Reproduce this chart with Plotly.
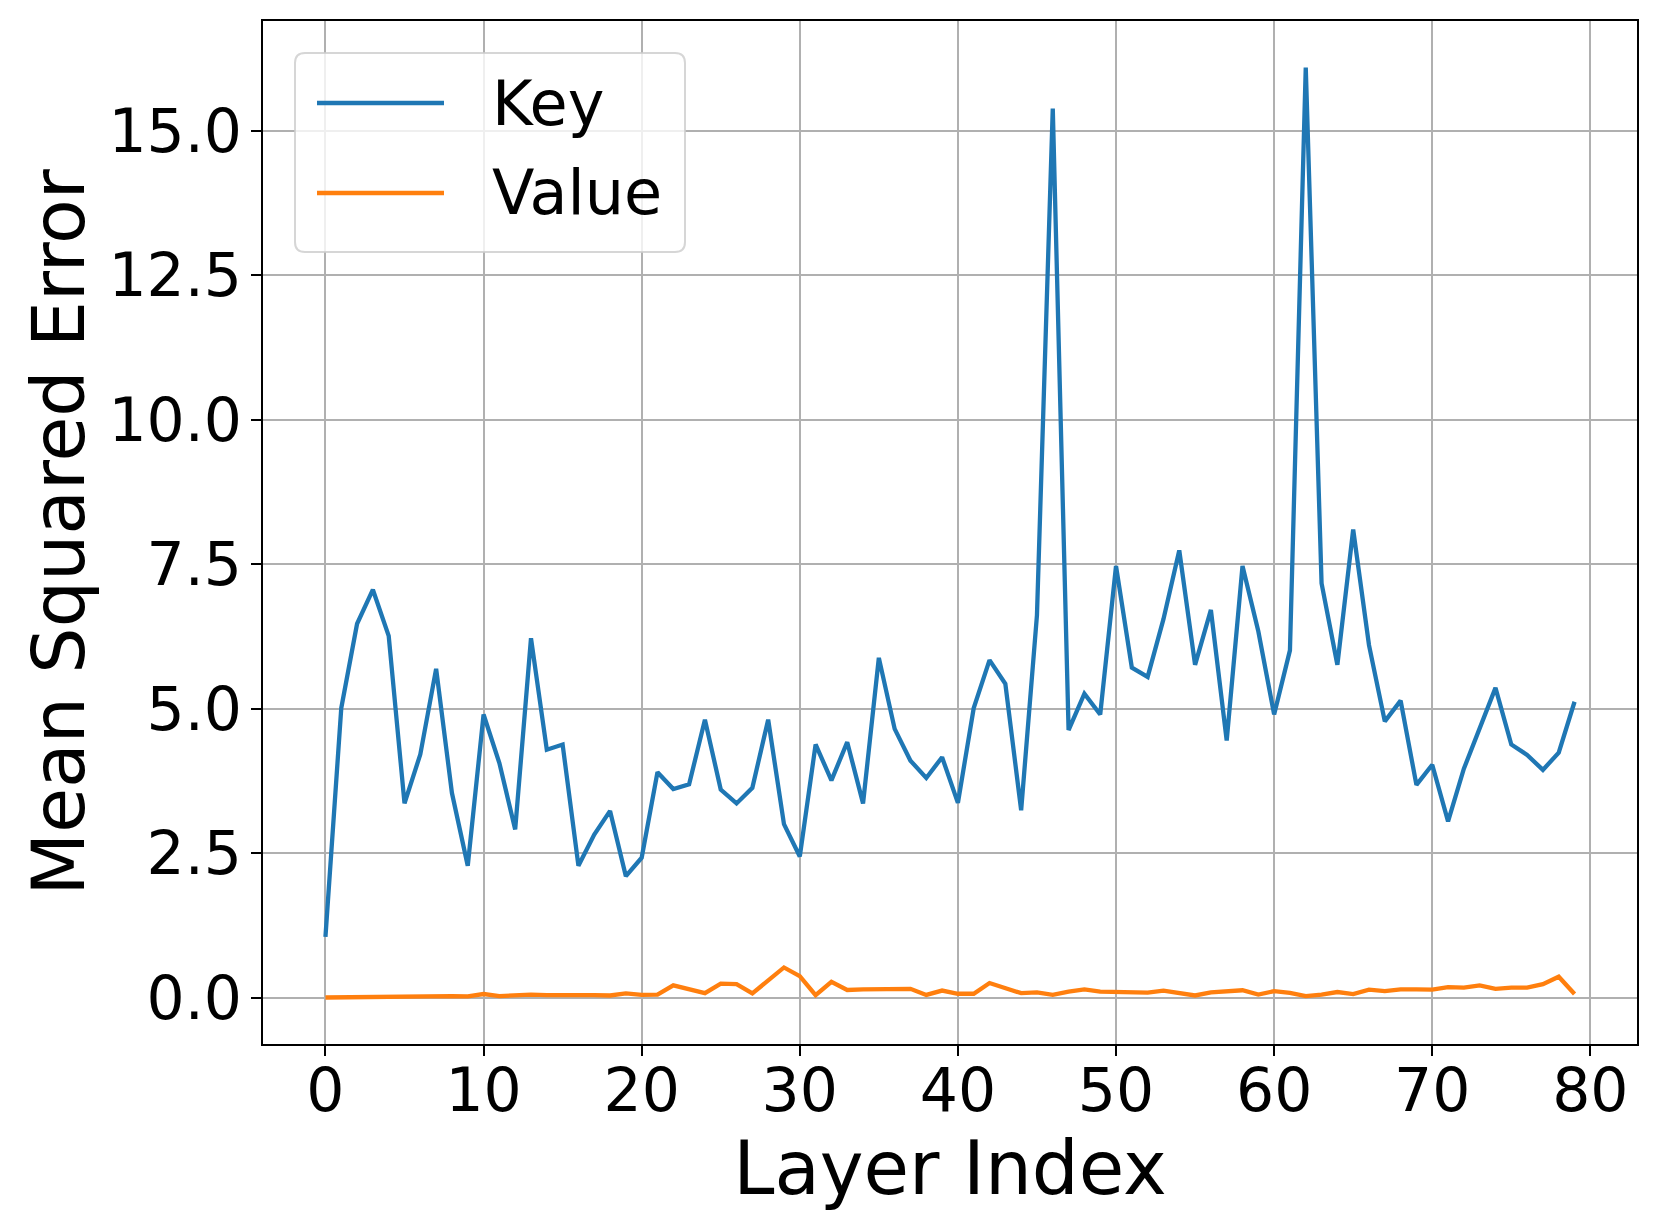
import plotly.graph_objects as go

layers = list(range(80))
key_mse = [1.05, 5.01, 6.47, 7.06, 6.26, 3.36, 4.21, 5.69, 3.54, 2.28,
           4.90, 4.06, 2.91, 6.22, 4.29, 4.38, 2.28, 2.82, 3.23, 2.10,
           2.42, 3.90, 3.61, 3.69, 4.81, 3.60, 3.36, 3.63, 4.81, 3.00,
           2.44, 4.38, 3.76, 4.42, 3.36, 5.88, 4.65, 4.10, 3.80, 4.16,
           3.37, 5.01, 5.84, 5.43, 3.24, 6.62, 15.39, 4.63, 5.26, 4.90,
           7.47, 5.71, 5.55, 6.55, 7.74, 5.76, 6.71, 4.45, 7.47, 6.34,
           4.90, 6.01, 16.10, 7.17, 5.76, 8.10, 6.10, 4.78, 5.14, 3.68,
           4.03, 3.05, 3.96, 4.64, 5.36, 4.38, 4.20, 3.94, 4.24, 5.12]
value_mse = [0.0, 0.005, 0.005, 0.01, 0.015, 0.02, 0.025, 0.035, 0.025, 0.02,
             0.06, 0.025, 0.035, 0.05, 0.04, 0.045, 0.045, 0.04, 0.035, 0.07,
             0.045, 0.05, 0.21, 0.145, 0.075, 0.24, 0.23, 0.07, 0.29, 0.52,
             0.37, 0.04, 0.27, 0.13, 0.14, 0.14, 0.155, 0.15, 0.045, 0.12,
             0.065, 0.065, 0.25, 0.155, 0.075, 0.09, 0.045, 0.10, 0.14, 0.10,
             0.09, 0.095, 0.085, 0.12, 0.07, 0.035, 0.09, 0.10, 0.125, 0.05,
             0.11, 0.08, 0.025, 0.05, 0.095, 0.06, 0.135, 0.11, 0.14, 0.14,
             0.135, 0.18, 0.17, 0.21, 0.15, 0.17, 0.17, 0.23, 0.36, 0.06]
series_names = ["Key", "Value"]
series_colors = ["#1f77b4", "#ff7f0e"]
x_ticks = [0, 10, 20, 30, 40, 50, 60, 70, 80]
y_ticks = [0.0, 2.5, 5.0, 7.5, 10.0, 12.5, 15.0]

FONT = "DejaVu Sans"
OFF = 8  # default page body margin
W, H = 1659 - OFF, 1232 - OFF
ML, MR, MT, MB = 263 - OFF, 22, 21 - OFF, 188
PW, PH = W - ML - MR, H - MT - MB

fig = go.Figure()
for name, ys, col in zip(series_names, [key_mse, value_mse], series_colors):
    fig.add_trace(go.Scatter(x=layers, y=ys, mode="lines", name=name,
                             line=dict(color=col, width=4.3), showlegend=False))

xmin, xmax = min(layers), max(layers)
allv = key_mse + value_mse
ymin, ymax = min(allv), max(allv)
xr = [xmin - 0.05 * (xmax - xmin), xmax + 0.05 * (xmax - xmin)]
yr = [ymin - 0.05 * (ymax - ymin), ymax + 0.05 * (ymax - ymin)]

axis_common = dict(showline=True, linecolor="black", linewidth=2, mirror=True,
                   ticks="outside", ticklen=10, tickwidth=2, tickcolor="black",
                   showgrid=True, gridcolor="#b0b0b0", gridwidth=2.2, zeroline=False,
                   tickfont=dict(family=FONT, size=60, color="black"))

fig.update_xaxes(range=xr, tickvals=x_ticks, ticktext=[str(t) for t in x_ticks],
                 ticklabelstandoff=-17,
                 title=dict(text="Layer Index", font=dict(family=FONT, size=74, color="black"),
                            standoff=2), **axis_common)
fig.update_yaxes(range=yr, tickvals=y_ticks, ticktext=[f"{t:.1f}" for t in y_ticks],
                 ticklabelstandoff=-3,
                 title=dict(text="Mean Squared Error", font=dict(family=FONT, size=73, color="black"),
                            standoff=0), **axis_common)

# custom legend (matplotlib-style box), positions given in screen pixels
def px2paper(px, py):
    return (px - OFF - ML) / PW, (OFF + H - MB - py) / PH

bx0, by0 = px2paper(295, 53)
bx1, by1 = px2paper(685, 252)
rx, ry = 10 / PW, 10 / PH
path = (f"M {bx0+rx},{by0} L {bx1-rx},{by0} Q {bx1},{by0} {bx1},{by0-ry} "
        f"L {bx1},{by1+ry} Q {bx1},{by1} {bx1-rx},{by1} L {bx0+rx},{by1} "
        f"Q {bx0},{by1} {bx0},{by1+ry} L {bx0},{by0-ry} Q {bx0},{by0} {bx0+rx},{by0} Z")
fig.add_shape(type="path", path=path, xref="paper", yref="paper",
              fillcolor="rgba(255,255,255,0.8)", line=dict(color="rgba(204,204,204,0.8)", width=2),
              layer="above")
for i, (name, col) in enumerate(zip(series_names, series_colors)):
    ly = 103 + i * 90
    lx0, lyp = px2paper(317, ly)
    lx1, _ = px2paper(444, ly)
    fig.add_shape(type="line", x0=lx0, x1=lx1, y0=lyp, y1=lyp, xref="paper", yref="paper",
                  line=dict(color=col, width=4.3), layer="above")
    tx, ty = px2paper(490, ly)
    fig.add_annotation(x=tx, y=ty, xref="paper", yref="paper", text=name, showarrow=False,
                       xanchor="left", yanchor="middle",
                       font=dict(family=FONT, size=62, color="black"))

fig.update_layout(width=W, height=H, margin=dict(l=ML, r=MR, t=MT, b=MB, autoexpand=False),
                  paper_bgcolor="white", plot_bgcolor="white",
                  font=dict(family=FONT, color="black"))

fig.write_html("out.html")
